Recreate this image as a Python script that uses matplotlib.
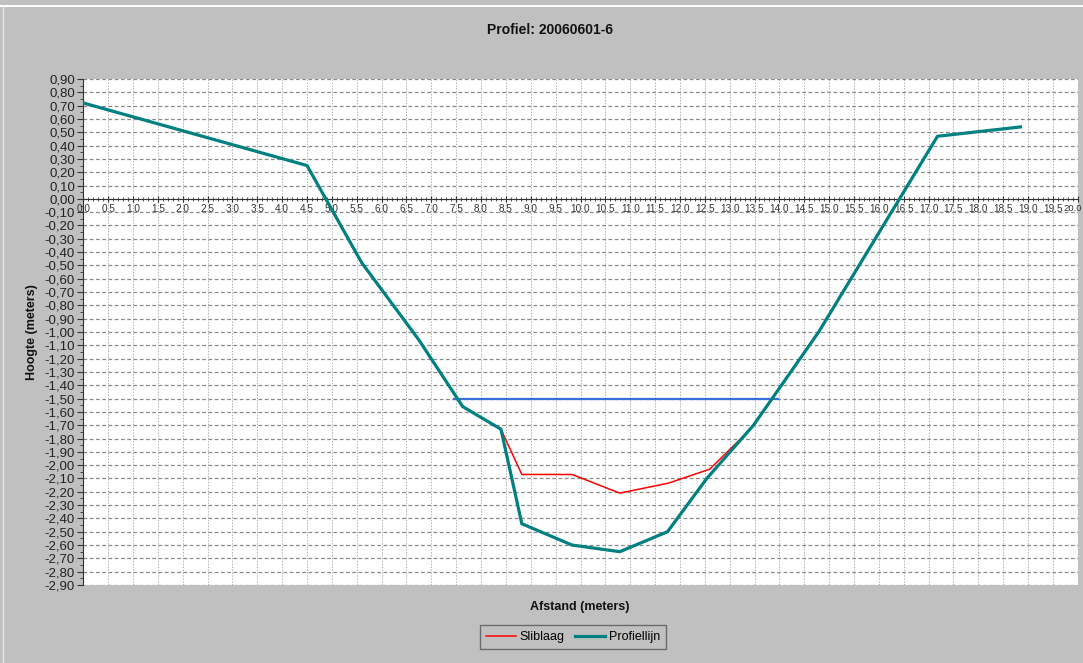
import matplotlib

matplotlib.use("Agg")
import matplotlib.pyplot as plt
from matplotlib.lines import Line2D
from matplotlib.ticker import FuncFormatter, MultipleLocator

# profiellijn (bodem)
afstand_profiel = [0.0, 4.5, 5.6, 6.75, 7.63, 8.4, 8.82, 9.83, 10.79, 11.75, 12.54, 13.48, 14.79, 17.18, 18.85]
hoogte_profiel = [0.72, 0.25, -0.48, -1.06, -1.56, -1.73, -2.44, -2.60, -2.65, -2.50, -2.10, -1.70, -1.00, 0.47, 0.54]

# sliblaag
afstand_slib = [8.4, 8.82, 9.83, 10.79, 11.77, 12.60, 13.28]
hoogte_slib = [-1.73, -2.07, -2.07, -2.21, -2.135, -2.03, -1.78]

# waterlijn
afstand_water = [7.45, 13.97]
hoogte_water = [-1.50, -1.50]

X_MAX = 20.0

BG = "#C0C0C0"
TEAL = "#008080"

plt.rcParams["font.family"] = ["Liberation Sans", "DejaVu Sans"]

fig = plt.figure(figsize=(10.83, 6.63), dpi=100, facecolor=BG)
ax = fig.add_axes([83.3 / 1083, 1 - 585 / 663, (1077.7 - 83.3) / 1083, (585 - 79) / 663])
ax.set_facecolor("white")

ax.plot(afstand_water, hoogte_water, color="#3A6FD8", lw=1.6, zorder=3)
ax.plot(afstand_slib, hoogte_slib, color="#FF0000", lw=1.1, label="Sliblaag", zorder=4)
ax.plot(afstand_profiel, hoogte_profiel, color=TEAL, lw=2.3, label="Profiellijn", zorder=5)

ax.set_xlim(0, X_MAX)
ax.set_ylim(-2.9, 0.9)

ax.xaxis.set_major_locator(MultipleLocator(0.5))
ax.xaxis.set_minor_locator(MultipleLocator(0.1))
ax.yaxis.set_major_locator(MultipleLocator(0.1))
ax.yaxis.set_minor_locator(MultipleLocator(0.05))


def y_fmt(v, _pos):
    if abs(v) < 1e-9:
        v = 0.0
    return f"{v:.2f}".replace(".", ",")


def x_fmt(v, _pos):
    # last label is drawn separately so it stays inside the figure
    if abs(v - X_MAX) < 1e-9:
        return ""
    return f"{v:.1f}"


ax.yaxis.set_major_formatter(FuncFormatter(y_fmt))
ax.xaxis.set_major_formatter(FuncFormatter(x_fmt))

for side in ("top", "right"):
    ax.spines[side].set_visible(False)
ax.spines["bottom"].set_position(("data", 0))
ax.spines["bottom"].set_color("#333333")
ax.spines["left"].set_color("#333333")

ax.tick_params(axis="y", which="major", direction="out", length=4, labelsize=9.5,
               colors="#333333", labelcolor="#222222", pad=2)
ax.tick_params(axis="y", which="minor", direction="out", length=2, colors="#333333")
ax.tick_params(axis="x", which="major", direction="inout", length=5, labelsize=7.2,
               colors="#333333", labelcolor="#333333", pad=1)
ax.tick_params(axis="x", which="minor", direction="inout", length=3, colors="#333333")

ax.annotate(f"{X_MAX:.1f}", xy=(X_MAX, 0), xytext=(3.2, -3.5), textcoords="offset points",
            ha="right", va="top", fontsize=6.8, color="#333333", annotation_clip=False)

ax.grid(True, which="major", axis="y", color="#8A8A8A", lw=0.9, ls=(0, (3, 2)), zorder=0)
ax.grid(True, which="major", axis="x", color="#B0B0B0", lw=0.7, ls=(0, (1.5, 1.5)), zorder=0)
ax.set_axisbelow(True)

fig.text(550 / 1083, 1 - 30 / 663, "Profiel: 20060601-6", ha="center", va="center",
         fontsize=10, fontweight="bold", color="#111111")
fig.text(580 / 1083, 1 - 607 / 663, "Afstand (meters)", ha="center", va="center",
         fontsize=9, fontweight="bold", color="#111111")
fig.text(32 / 1083, 1 - 332 / 663, "Hoogte (meters)", ha="center", va="center",
         rotation=90, fontsize=9, fontweight="bold", color="#111111")

leg = fig.legend(loc="center", bbox_to_anchor=(573 / 1083, 1 - 637 / 663), ncol=2,
                 frameon=True, fancybox=False, facecolor=BG, edgecolor="#555555",
                 fontsize=9, handlelength=2.4, columnspacing=0.8, handletextpad=0.3,
                 borderpad=0.5)
leg.get_frame().set_linewidth(1.0)

fig.add_artist(Line2D([0, 1], [1 - 6 / 663, 1 - 6 / 663], color="white", lw=1.5,
                      transform=fig.transFigure))
fig.add_artist(Line2D([3 / 1083, 3 / 1083], [0, 1 - 6 / 663], color="#E8E8E8", lw=1.0,
                      transform=fig.transFigure))

fig.savefig("out.png", dpi=100, facecolor=BG)
